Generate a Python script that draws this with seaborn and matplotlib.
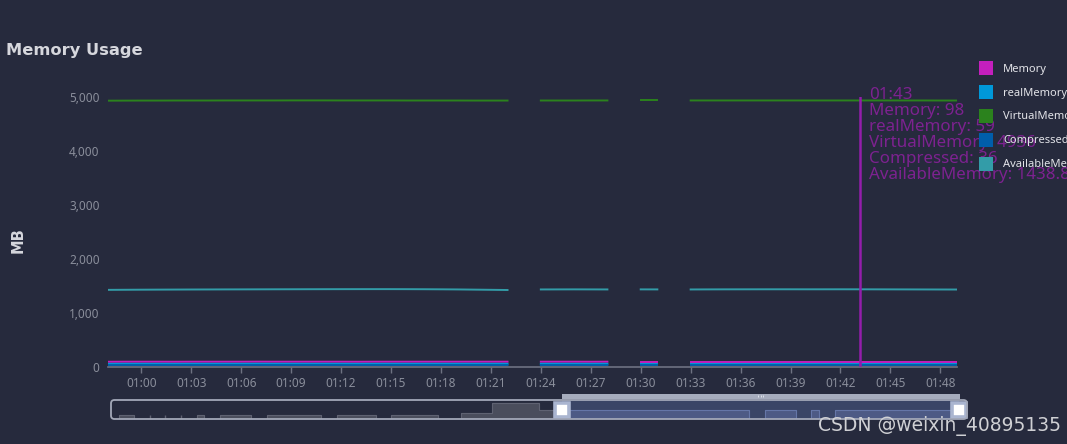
import numpy as np
import pandas as pd
import matplotlib
matplotlib.use("Agg")
import matplotlib.pyplot as plt
import seaborn as sns
from matplotlib.patches import Patch, FancyBboxPatch, Rectangle
from matplotlib.ticker import FuncFormatter

# ---------------- data ----------------
series_names = ["Memory", "realMemory", "VirtualMemory", "Compressed", "AvailableMemory"]
series_colors = ["#c41fbd", "#0098d9", "#2b821d", "#005eaa", "#339ca8"]

# minutes since 00:00 (gaps at 01:23, 01:29, 01:32)
minutes = [58, 59, 60, 61, 62, 63, 64, 65, 66, 67, 68, 69, 70, 71, 72, 73, 74, 75, 76, 77, 78, 79, 80, 81, 82,
           84, 85, 86, 87, 88,
           90, 91,
           93, 94, 95, 96, 97, 98, 99, 100, 101, 102, 103, 104, 105, 106, 107, 108, 109]
segments = [0, 0, 0, 0, 0, 0, 0, 0, 0, 0, 0, 0, 0, 0, 0, 0, 0, 0, 0, 0, 0, 0, 0, 0, 0,
            1, 1, 1, 1, 1,
            2, 2,
            3, 3, 3, 3, 3, 3, 3, 3, 3, 3, 3, 3, 3, 3, 3, 3, 3]

memory = [97, 98, 98, 98, 97, 98, 98, 98, 98, 99, 98, 98, 98, 98, 98, 97, 98, 98, 98, 98, 98, 98, 98, 98, 98,
          98, 98, 98, 97, 98,
          98, 98,
          98, 98, 98, 98, 98, 98, 98, 98, 98, 98, 98, 98, 98, 98, 98, 98, 98]
real_memory = [58, 59, 59, 59, 58, 59, 59, 59, 59, 60, 59, 59, 59, 59, 59, 58, 59, 59, 59, 59, 59, 59, 59, 59, 59,
               59, 59, 59, 58, 59,
               59, 59,
               59, 59, 59, 59, 59, 59, 59, 59, 59, 59, 59, 59, 59, 59, 59, 59, 59]
virtual_memory = [4932, 4933, 4934, 4934, 4935, 4935, 4935, 4936, 4936, 4936, 4936, 4937, 4937, 4937, 4936, 4936,
                  4936, 4936, 4935, 4935, 4935, 4935, 4934, 4934, 4934,
                  4935, 4935, 4935, 4936, 4936,
                  4936, 4936,
                  4936, 4936, 4936, 4936, 4936, 4936, 4936, 4936, 4936, 4936, 4936, 4936, 4936, 4936, 4936, 4935, 4935]
compressed = [35, 36, 36, 36, 35, 36, 36, 36, 36, 37, 36, 36, 36, 36, 36, 35, 36, 36, 36, 36, 36, 36, 36, 36, 36,
              36, 36, 36, 35, 36,
              36, 36,
              36, 36, 36, 36, 36, 36, 36, 36, 36, 36, 36, 36, 36, 36, 36, 36, 36]
available_memory = [1428.5, 1430.2, 1431.8, 1433.0, 1434.1, 1435.2, 1436.0, 1436.9, 1437.5, 1438.2, 1439.0, 1439.6,
                    1440.3, 1440.9, 1441.4, 1441.8, 1442.1, 1442.0, 1441.3, 1440.2, 1438.6, 1436.4, 1433.0, 1429.5,
                    1425.8,
                    1436.2, 1437.0, 1437.8, 1437.1, 1436.4,
                    1437.5, 1436.9,
                    1436.0, 1437.2, 1438.1, 1438.5, 1438.9, 1439.2, 1439.0, 1438.7, 1438.9, 1439.1, 1438.84, 1438.2,
                    1437.6, 1436.9, 1436.1, 1435.4, 1434.8]

ytick_values = [0, 1000, 2000, 3000, 4000, 5000]
xtick_labels = ["01:00", "01:03", "01:06", "01:09", "01:12", "01:15", "01:18", "01:21", "01:24",
                "01:27", "01:30", "01:33", "01:36", "01:39", "01:42", "01:45", "01:48"]
tooltip_minute = 103

# overview (data-zoom shadow), one value per minute from 00:00
overview_values = [0, 640, 640, 0, 0, 0, 0, 0, 0, 0,
                   0, 640, 0, 0, 640, 640, 640, 640, 0, 0,
                   640, 640, 640, 640, 640, 640, 640, 0, 0, 640,
                   640, 640, 640, 640, 0, 0, 640, 640, 640, 640,
                   640, 640, 0, 0, 0, 960, 960, 960, 960, 2560,
                   2560, 2560, 2560, 2560, 2560, 1440, 1440, 1440, 1440, 1440,
                   1440, 1440, 1440, 1440, 1440, 1440, 1440, 1440, 1440, 1440,
                   1440, 1440, 1440, 1440, 1440, 1440, 1440, 1440, 1440, 1440,
                   1440, 1440, 0, 0, 1440, 1440, 1440, 1440, 0, 0,
                   1440, 0, 0, 1440, 1440, 1440, 1440, 1440, 1440, 1440,
                   1440, 1440, 1440, 1440, 1440, 1440, 1440, 1440, 1440, 1440]
overview_spikes = [5, 7, 9]
overview_span = 110
zoom_start, zoom_end = 58, 109

# ---------------- style ----------------
BG = "#262a3d"
GRID_TXT = "#8a8e9b"
TITLE_C = "#d6d7dd"
FONT = ["Noto Sans", "DejaVu Sans"]
plt.rcParams["font.family"] = FONT

W, H = 1067, 444
fig = plt.figure(figsize=(W / 100, H / 100), dpi=100)
fig.patch.set_facecolor(BG)

ax = fig.add_axes([108 / W, 1 - 367 / H, 849 / W, 270 / H])
ax.set_facecolor(BG)

series_data = [memory, real_memory, virtual_memory, compressed, available_memory]
frames = []
for name, vals in zip(series_names, series_data):
    frames.append(pd.DataFrame({"minute": minutes, "segment": segments, "value": vals, "series": name}))
df = pd.concat(frames, ignore_index=True)

sns.lineplot(data=df, x="minute", y="value", hue="series", units="segment", estimator=None,
             hue_order=series_names, palette=dict(zip(series_names, series_colors)),
             linewidth=1.4, legend=False, ax=ax)

ax.set_xlim(zoom_start, zoom_end)
ax.set_ylim(0, 5000)
for s in ["top", "right", "left"]:
    ax.spines[s].set_visible(False)
ax.spines["bottom"].set_color("#6e7282")
ax.spines["bottom"].set_linewidth(1.2)

def lab2min(s):
    h, m = s.split(":")
    return int(h) * 60 + int(m)

ax.set_xticks([lab2min(s) for s in xtick_labels])
ax.set_xticklabels(xtick_labels)
ax.set_yticks(ytick_values)
ax.yaxis.set_major_formatter(FuncFormatter(lambda v, p: f"{int(v):,}"))
ax.tick_params(axis="x", colors="#6e7282", labelcolor=GRID_TXT, labelsize=8.5, length=4, width=1, pad=3)
ax.tick_params(axis="y", labelcolor=GRID_TXT, labelsize=8.5, length=0, pad=6)
ax.set_xlabel("")
ax.set_ylabel("")
ax.grid(False)

# tooltip marker line + text
ax.axvline(tooltip_minute + 0.15, color="#931dab", linewidth=1.8, zorder=5)
idx = minutes.index(tooltip_minute)
tip_lines = [f"{tooltip_minute // 60:02d}:{tooltip_minute % 60:02d}"]
for name, vals in zip(series_names, series_data):
    tip_lines.append(f"{name}: {vals[idx]:g}")
fig.text(869 / W, 1 - 87 / H, "\n".join(tip_lines), color="#7d2290", fontsize=12.2,
         va="top", ha="left", linespacing=1.0, zorder=3)

# title & axis name
fig.text(6 / W, 1 - 50 / H, "Memory Usage", color=TITLE_C, fontsize=11.7, fontweight="bold",
         va="center", ha="left", family=["DejaVu Sans"])
fig.text(18 / W, 1 - 240 / H, "MB", color=TITLE_C, fontsize=10.5, fontweight="bold",
         rotation=90, va="center", ha="center", family=["DejaVu Sans"])

# legend
handles = [Patch(facecolor=c, edgecolor="none", label=n) for n, c in zip(series_names, series_colors)]
leg = fig.legend(handles=handles, loc="upper left", bbox_to_anchor=(979 / W, 1 - 61 / H),
                 frameon=False, fontsize=8, handlelength=1.25, handleheight=1.55, handletextpad=0.9,
                 labelspacing=0.9, borderpad=0, borderaxespad=0, labelcolor="#e2e3e8")
leg.set_zorder(10)

# ---------------- data zoom slider ----------------
sax = fig.add_axes([111 / W, 1 - 419 / H, 856 / W, 19 / H])
sax.set_facecolor("none")
sax.set_xlim(0, overview_span)
sax.set_ylim(0, 3040)
sax.axis("off")

ov = np.array(overview_values, dtype=float)
ox = np.arange(len(ov))
sel = (ox >= zoom_start) & (ox <= zoom_end)
unsel = ox <= zoom_start
sax.fill_between(ox[unsel], ov[unsel], step="post", color="#4a4d5c", linewidth=0)
sax.step(ox[unsel], ov[unsel], where="post", color="#5f6272", linewidth=0.8)
sax.vlines(overview_spikes, 0, 640, color="#5f6272", linewidth=1)
# selected window background
sax.add_patch(Rectangle((zoom_start, 0), zoom_end - zoom_start, 3040,
                        facecolor="#3a4566", edgecolor="none", zorder=1))
sax.fill_between(ox[sel], ov[sel], step="post", color="#4d5a85", linewidth=0, zorder=2)
sax.step(ox[sel], ov[sel], where="post", color="#6576a8", linewidth=0.8, zorder=2)

# frame
frame = FancyBboxPatch((111 / 100, (H - 419) / 100), 856 / 100, 19 / 100,
                       boxstyle="round,pad=0,rounding_size=0.035", transform=fig.dpi_scale_trans,
                       facecolor="none", edgecolor="#a3a8b8", linewidth=1.3, zorder=5)
fig.add_artist(frame)

# top move bar
sax.add_patch(Rectangle((zoom_start - 0.1, 3200), zoom_end - zoom_start + 0.2, 850,
                        facecolor="#a6acbd", edgecolor="none", clip_on=False, zorder=3))
mid = (zoom_start + zoom_end) / 2
sax.vlines([mid - 0.3, mid, mid + 0.3], 3450, 3850, color="#e6e9f0", linewidth=0.6, clip_on=False, zorder=4)

# handles
sax.plot([zoom_start, zoom_end], [1520, 1520], linestyle="none", marker="s", markersize=10.5,
         markerfacecolor="white", markeredgecolor="#aab5d0", markeredgewidth=2.6, clip_on=False, zorder=6)

# watermark
fig.text(818 / W, 1 - 426 / H, "CSDN @weixin_40895135", color="#cfd0d4", fontsize=13.5,
         va="center", ha="left", zorder=12, family=["DejaVu Sans"])

fig.savefig("out.png", dpi=100, facecolor=BG)
